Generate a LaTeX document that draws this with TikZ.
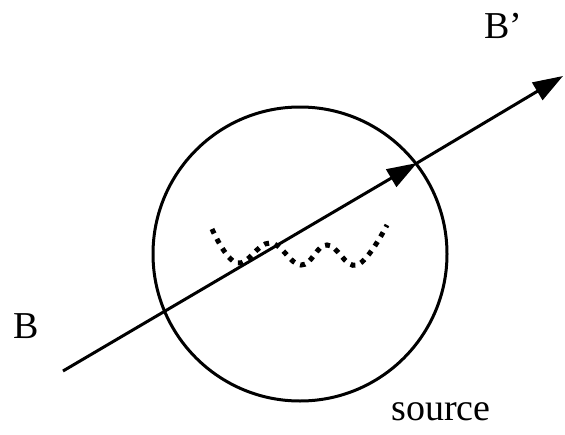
\documentclass[tikz,border=0pt]{standalone}
\usepackage{fontspec}
\setmainfont{Liberation Serif}
\usetikzlibrary{arrows.meta}

\tikzset{
  ray/.style={line width=3pt, -{Triangle[length=30pt,width=20pt]}},
  wiggle/.style={line width=5pt, dash pattern=on 5pt off 6pt},
  lbl/.style={font=\fontsize{38}{40}\selectfont, inner sep=0pt}
}

\begin{document}
\begin{tikzpicture}[x=1pt,y=-1pt]
    \useasboundingbox (0,0) rectangle (565,434);

    \draw[line width=3pt] (300,254) circle (147);

    \draw[wiggle] plot[smooth, tension=0.7] coordinates {
        (212,229) (237,263) (270,243) (301,265) (327,245) (357,265) (387,225)
      };

    \coordinate (start) at (63,371);
    \coordinate (mid) at (417,163);
    \coordinate (end) at (563,76);
    \draw[ray] (start) -- (mid);
    \draw[ray] (mid) -- (end);

    \node[lbl] (b) at (26,326) {B};
    \node[lbl] (bprime) at (503,26) {B'};
    \node[lbl] (source) at (441,412) {source};
  \end{tikzpicture}
\end{document}
